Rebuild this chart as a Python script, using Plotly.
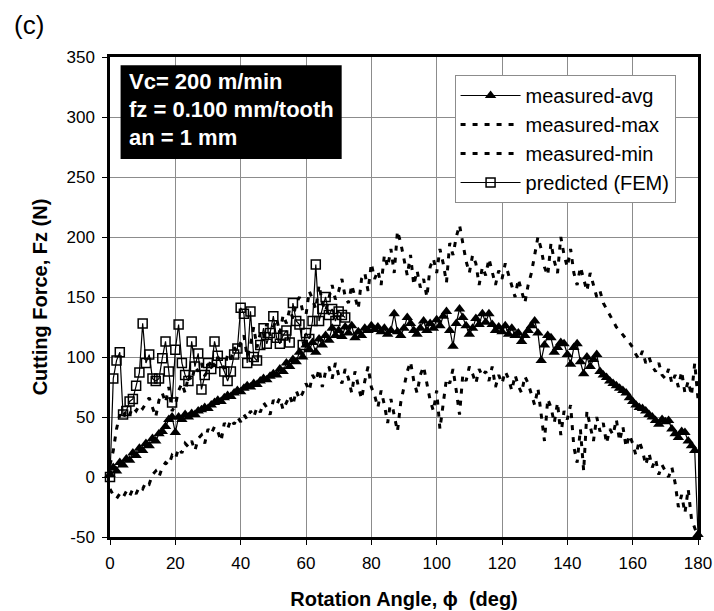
import plotly.graph_objects as go

# ---------------- data ----------------
angle = list(range(0, 181))

measured_avg = [
    2, 8, 5, 12, 10, 15, 14, 20, 18, 24,
    22, 28, 26, 32, 30, 36, 38, 42, 48, 50,
    37, 50, 48, 52, 50, 53, 52, 55, 56, 58,
    57, 60, 62, 64, 63, 66, 68, 67, 70, 72,
    71, 74, 76, 75, 78, 77, 80, 82, 81, 84,
    86, 85, 90, 88, 95, 92, 98, 96, 104, 100,
    110, 106, 112, 104, 115, 110, 118, 114, 124, 118,
    122, 117, 125, 120, 126, 116, 121, 118, 124, 122,
    126, 123, 125, 121, 124, 119, 122, 136, 121, 118,
    124, 133, 128, 122, 119, 124, 130, 122, 128, 124,
    131, 126, 134, 138, 122, 109, 128, 140, 133, 126,
    119, 124, 132, 127, 136, 129, 136, 127, 122, 125,
    121, 126, 119, 124, 118, 120, 113, 118, 122, 126,
    130, 120, 97, 110, 118, 116, 104, 108, 112, 111,
    102, 94, 108, 111, 96, 86, 100, 92, 98, 102,
    88, 85, 83, 80, 78, 76, 74, 72, 70, 66,
    63, 60, 58, 57, 55, 52, 50, 47, 44, 48,
    46, 47, 40, 36, 33, 38, 37, 30, 26, 22,
    -48,
]

measured_max = [
    10, 22, 40, 52, 48, 56, 52, 58, 55, 60,
    57, 62, 66, 58, 50, 64, 70, 62, 75, 55,
    60, 72, 78, 70, 85, 80, 92, 88, 95, 84,
    90, 98, 92, 100, 96, 90, 102, 98, 108, 104,
    112, 118, 100, 110, 125, 108, 120, 115, 128, 118,
    125, 132, 120, 135, 128, 140, 132, 145, 150, 138,
    135, 155, 148, 140, 160, 145, 138, 150, 160, 148,
    155, 165, 150, 145, 160, 150, 140, 165, 170, 155,
    178, 165, 172, 160, 185, 175, 190, 170, 205, 195,
    180, 168, 185, 160, 172, 158, 165, 150, 175, 182,
    170, 190, 178, 162, 195, 185, 200, 210, 195, 180,
    170, 185, 178, 160, 175, 168, 182, 170, 160, 172,
    165, 178, 168, 158, 150, 165, 155, 145, 160, 170,
    185, 200, 190, 175, 168, 195, 180, 170, 200, 185,
    175, 190, 170, 160, 175, 165, 155, 170, 160, 150,
    155, 145, 140, 135, 130, 125, 122, 118, 115, 112,
    108, 102, 98, 105, 95, 100, 92, 88, 95, 85,
    82, 90, 78, 85, 75, 88, 70, 80, 68, 95,
    65,
]

measured_min = [
    -10, -15, -18, -14, -17, -12, -16, -10, -14, -8,
    -10, -4, -6, 2, 5, 0, 8, 12, 10, 18,
    15, 24, 20, 28, 25, 30, 22, 32, 35, 28,
    40, 36, 42, 38, 30, 45, 40, 48, 44, 50,
    46, 52, 48, 55, 50, 58, 54, 62, 58, 52,
    64, 60, 66, 56, 62, 68, 60, 72, 65, 70,
    78, 72, 85, 80, 90, 75, 88, 92, 82, 95,
    85, 78, 90, 82, 70, 88, 76, 65, 80, 92,
    75, 68, 58, 72, 60, 45, 65, 50, 38, 62,
    75, 88, 96, 80, 70, 85, 92, 78, 64, 55,
    72, 40, 60, 82, 78, 90, 72, 52, 85, 80,
    92, 86, 78, 90, 84, 88, 80, 92, 75, 85,
    78, 88, 82, 72, 85, 76, 70, 84, 78, 68,
    60, 74, 50, 30, 65, 58, 45, 62, 35, 55,
    48, 60, 25, 12, 40, 5, 55, 42, 30, 50,
    38, 45, 28, 40, 35, 48, 30, 42, 25, 35,
    28, 18, 30, 22, 10, 20, 8, 15, 2, 10,
    5, 0, 8, -5, -25, -15, -30, -10, -35, -42,
    -50,
]

fem_angle = list(range(0, 73))
predicted_fem = [
    0, 82, 97, 104, 52, 55, 63, 65, 76, 87,
    128, 95, 102, 82, 80, 82, 99, 113, 88, 62,
    106, 127, 95, 85, 80, 113, 92, 103, 73, 85,
    95, 90, 113, 101, 95, 88, 80, 88, 102, 107,
    141, 136, 95, 138, 100, 97, 110, 124, 111, 120,
    134, 116, 111, 118, 122, 112, 145, 130, 127, 110,
    120, 115, 130, 177, 130, 140, 150, 135, 140, 130,
    138, 135, 133,
]

x_ticks = [0, 20, 40, 60, 80, 100, 120, 140, 160, 180]
y_ticks = [-50, 0, 50, 100, 150, 200, 250, 300, 350]
y_tick_labels = ["-50", "0", "50", "100", "150", "200", "250", "300", "350"]
info_lines = ["Vc= 200 m/min", "fz = 0.100 mm/tooth", "an = 1 mm"]

FONT = "Liberation Sans, Arial, Helvetica, sans-serif"

fig = go.Figure()

fig.add_trace(go.Scatter(
    x=angle, y=measured_avg, name="measured-avg", mode="lines+markers",
    line=dict(color="black", width=1.2),
    marker=dict(symbol="triangle-up", size=10, color="black"),
    cliponaxis=False,
))
fig.add_trace(go.Scatter(
    x=angle, y=measured_max, name="measured-max", mode="lines",
    line=dict(color="black", width=3, dash="5px,7px"),
))
fig.add_trace(go.Scatter(
    x=angle, y=measured_min, name="measured-min", mode="lines",
    line=dict(color="black", width=3, dash="5px,7px"),
))
fig.add_trace(go.Scatter(
    x=fem_angle, y=predicted_fem, name="predicted (FEM)", mode="lines+markers",
    line=dict(color="black", width=1.2),
    marker=dict(symbol="square-open", size=9, color="black", line=dict(width=1.5)),
    cliponaxis=False,
))

# info box
fig.add_shape(type="rect", xref="paper", yref="paper",
              x0=0.018, x1=0.394, y0=0.7875, y1=0.983,
              fillcolor="black", line=dict(color="black", width=0), layer="above")
for txt, yy in zip(info_lines, [0.948, 0.8896, 0.8333]):
    fig.add_annotation(text="<b>" + txt + "</b>", xref="paper", yref="paper",
                       x=0.029, y=yy, xanchor="left", yanchor="middle",
                       showarrow=False, font=dict(family=FONT, size=22, color="white"))

fig.add_annotation(text="(c)", xref="paper", yref="paper", x=-0.167, y=1.066,
                   xanchor="left", yanchor="middle", showarrow=False,
                   font=dict(family=FONT, size=26, color="black"))

axis_common = dict(
    showline=True, linecolor="black", linewidth=2.5, mirror=True,
    ticks="outside", ticklen=5, tickwidth=1, tickcolor="black",
    showgrid=True, gridcolor="#8c8c8c", gridwidth=1,
    zeroline=False, tickfont=dict(family=FONT, size=17, color="black"),
    automargin=False, ticklabelstandoff=4,
)

fig.update_xaxes(range=[0, 180], tickvals=x_ticks, **axis_common,
                 title=dict(text="<b>Rotation Angle, \u03d5  (deg)</b>",
                            font=dict(family=FONT, size=20, color="black"), standoff=20))
fig.update_yaxes(range=[-50, 350], tickvals=y_ticks, ticktext=y_tick_labels, **axis_common,
                 title=dict(text="<b>Cutting Force, Fz (N)</b>",
                            font=dict(family=FONT, size=20, color="black"), standoff=14))

fig.update_layout(
    width=714, height=611,
    margin=dict(l=110, r=16, t=57, b=74),
    paper_bgcolor="white", plot_bgcolor="white",
    font=dict(family=FONT, color="black"),
    legend=dict(x=0.586, y=0.9625, xanchor="left", yanchor="top",
                bgcolor="white", bordercolor="#8c8c8c", borderwidth=1,
                font=dict(family=FONT, size=20, color="black"),
                tracegroupgap=0, itemwidth=60),
    showlegend=True,
)

# remove the default 8px page margin so the 714x611 figure fills the window exactly
fig.write_html("out.html", config={"displayModeBar": False},
               post_script="document.body.style.margin='0';")
